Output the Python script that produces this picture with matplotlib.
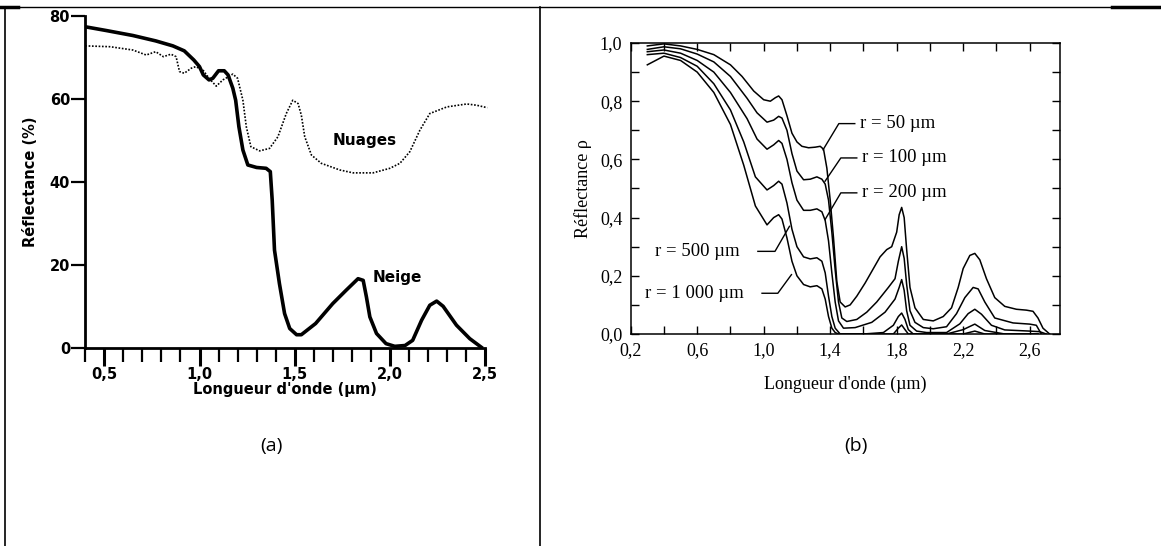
import matplotlib
matplotlib.use("Agg")
import matplotlib.pyplot as plt
from matplotlib.lines import Line2D
from matplotlib.ticker import MultipleLocator, FixedLocator, FuncFormatter

# --- (a) neige / nuages, reflectance in % ---
neige_x = [0.40, 0.51, 0.65, 0.77, 0.86, 0.92, 0.97, 1.00, 1.02, 1.05, 1.07, 1.10, 1.13, 1.15,
           1.175, 1.19, 1.207, 1.228, 1.254, 1.30, 1.35, 1.372, 1.382, 1.394, 1.42, 1.447,
           1.474, 1.51, 1.535, 1.61, 1.70, 1.77, 1.833, 1.86, 1.877, 1.895, 1.93, 1.98, 2.026,
           2.08, 2.12, 2.167, 2.21, 2.246, 2.28, 2.35, 2.42, 2.48]
neige_y = [77.4, 76.5, 75.3, 74.0, 72.8, 71.6, 69.4, 67.8, 65.8, 64.6, 65.0, 66.8, 66.8, 65.8,
           62.6, 59.7, 53.3, 47.7, 44.1, 43.5, 43.3, 42.5, 35.6, 23.6, 15.5, 8.3,
           4.7, 3.2, 3.2, 5.9, 10.7, 13.9, 16.7, 16.3, 12.3, 7.5, 3.5, 1.05, 0.4,
           0.6, 1.85, 6.7, 10.3, 11.3, 10.05, 5.5, 2.25, 0.2]

nuages_x = [0.40, 0.53, 0.65, 0.72, 0.77, 0.81, 0.85, 0.877, 0.895, 0.92, 0.956, 0.98, 1.018,
            1.05, 1.088, 1.123, 1.175, 1.20, 1.228, 1.246, 1.27, 1.316, 1.368, 1.412, 1.456,
            1.49, 1.518, 1.535, 1.553, 1.588, 1.64, 1.737, 1.807, 1.912, 2.00, 2.053, 2.105,
            2.158, 2.21, 2.30, 2.404, 2.456, 2.512]
nuages_y = [72.8, 72.6, 71.8, 70.6, 71.4, 70.2, 70.8, 70.2, 66.6, 66.2, 67.4, 67.8, 67.0,
            65.0, 63.1, 64.6, 66.0, 65.0, 59.7, 53.3, 48.5, 47.5, 48.1, 50.9, 56.5,
            59.7, 58.9, 56.1, 50.9, 46.5, 44.5, 42.9, 42.2, 42.2, 43.3, 44.5, 47.3,
            52.5, 56.5, 58.1, 58.8, 58.5, 57.9]

# --- (b) snow reflectance for grain radius r ---
r50_x = [0.30, 0.40, 0.50, 0.60, 0.70, 0.80, 0.87, 0.94, 1.00, 1.04, 1.07, 1.09, 1.11, 1.14,
         1.17, 1.20, 1.23, 1.27, 1.31, 1.34, 1.36, 1.38, 1.40, 1.42, 1.44, 1.46, 1.49, 1.52,
         1.56, 1.61, 1.66, 1.70, 1.74, 1.77, 1.80, 1.815, 1.83, 1.845, 1.86, 1.88, 1.91, 1.96,
         2.02, 2.08, 2.13, 2.17, 2.20, 2.24, 2.27, 2.30, 2.34, 2.39, 2.45, 2.52, 2.58, 2.62,
         2.65, 2.68, 2.72]
r50_y = [0.99, 0.997, 0.99, 0.978, 0.96, 0.925, 0.885, 0.835, 0.805, 0.80, 0.812, 0.818, 0.805,
         0.75, 0.69, 0.66, 0.645, 0.64, 0.642, 0.645, 0.635, 0.57, 0.46, 0.33, 0.18, 0.11,
         0.093, 0.10, 0.13, 0.175, 0.225, 0.265, 0.29, 0.30, 0.35, 0.41, 0.435, 0.40, 0.29,
         0.16, 0.09, 0.05, 0.045, 0.06, 0.09, 0.16, 0.225, 0.27, 0.277, 0.255, 0.19, 0.125,
         0.095, 0.085, 0.082, 0.078, 0.055, 0.02, 0.0]

r100_x = [0.30, 0.40, 0.50, 0.60, 0.70, 0.80, 0.90, 0.96, 1.02, 1.06, 1.09, 1.11, 1.14, 1.17,
          1.20, 1.24, 1.28, 1.32, 1.35, 1.37, 1.39, 1.41, 1.43, 1.45, 1.47, 1.50, 1.56, 1.62,
          1.68, 1.75, 1.79, 1.81, 1.83, 1.845, 1.86, 1.88, 1.91, 1.96, 2.02, 2.10, 2.16,
          2.21, 2.26, 2.29, 2.33, 2.39, 2.50, 2.60, 2.64, 2.67]
r100_y = [0.978, 0.987, 0.98, 0.962, 0.935, 0.885, 0.81, 0.76, 0.728, 0.735, 0.748, 0.742,
          0.70, 0.62, 0.56, 0.53, 0.532, 0.54, 0.532, 0.515, 0.46, 0.35, 0.22, 0.11, 0.055,
          0.043, 0.05, 0.075, 0.11, 0.16, 0.19, 0.25, 0.30, 0.26, 0.17, 0.08, 0.04, 0.022,
          0.018, 0.025, 0.07, 0.125, 0.16, 0.155, 0.11, 0.055, 0.038, 0.034, 0.03, 0.0]

r200_x = [0.30, 0.40, 0.50, 0.60, 0.70, 0.80, 0.90, 0.96, 1.02, 1.06, 1.09, 1.11, 1.14, 1.17,
          1.20, 1.24, 1.28, 1.32, 1.35, 1.37, 1.39, 1.41, 1.43, 1.45, 1.48, 1.55, 1.65, 1.73,
          1.79, 1.815, 1.83, 1.845, 1.86, 1.88, 1.92, 1.98, 2.10, 2.18, 2.23, 2.27, 2.31,
          2.37, 2.45, 2.60, 2.66, 2.70]
r200_y = [0.97, 0.976, 0.965, 0.94, 0.90, 0.83, 0.74, 0.67, 0.635, 0.65, 0.665, 0.655, 0.60,
          0.52, 0.46, 0.425, 0.425, 0.43, 0.42, 0.39, 0.32, 0.21, 0.11, 0.045, 0.02, 0.022,
          0.04, 0.075, 0.12, 0.16, 0.187, 0.15, 0.08, 0.03, 0.01, 0.005, 0.005, 0.035, 0.07,
          0.085, 0.068, 0.03, 0.014, 0.01, 0.008, 0.0]

r500_x = [0.30, 0.40, 0.50, 0.60, 0.70, 0.80, 0.88, 0.95, 1.02, 1.06, 1.09, 1.11, 1.14, 1.17,
          1.20, 1.24, 1.28, 1.32, 1.35, 1.37, 1.39, 1.41, 1.43, 1.46, 1.60, 1.72, 1.78, 1.81,
          1.83, 1.85, 1.87, 1.90, 2.10, 2.20, 2.27, 2.33, 2.45, 2.65]
r500_y = [0.96, 0.965, 0.95, 0.92, 0.86, 0.77, 0.66, 0.54, 0.495, 0.51, 0.525, 0.515, 0.45,
          0.36, 0.30, 0.265, 0.258, 0.262, 0.25, 0.21, 0.13, 0.06, 0.02, 0.0, 0.0, 0.005, 0.03,
          0.06, 0.072, 0.05, 0.015, 0.0, 0.0, 0.015, 0.034, 0.012, 0.0, 0.0]

r1000_x = [0.30, 0.40, 0.50, 0.60, 0.70, 0.80, 0.88, 0.95, 1.02, 1.06, 1.09, 1.11, 1.14, 1.17,
           1.20, 1.24, 1.28, 1.32, 1.35, 1.37, 1.39, 1.41, 1.43, 1.45, 1.60, 1.78, 1.81, 1.83,
           1.85, 1.87, 2.20, 2.27, 2.33, 2.65]
r1000_y = [0.925, 0.955, 0.94, 0.90, 0.83, 0.72, 0.58, 0.44, 0.375, 0.40, 0.41, 0.395, 0.33,
           0.25, 0.20, 0.17, 0.162, 0.166, 0.155, 0.12, 0.06, 0.02, 0.005, 0.0, 0.0, 0.0, 0.02,
           0.031, 0.015, 0.0, 0.0, 0.01, 0.0, 0.0]

radius_labels = ["r = 50 \u00b5m", "r = 100 \u00b5m", "r = 200 \u00b5m",
                 "r = 500 \u00b5m", "r = 1 000 \u00b5m"]
b_xticks = [0.2, 0.6, 1.0, 1.4, 1.8, 2.2, 2.6]

W, H = 1161, 546


def fx(px):
    return px / W


def fy(py):
    return 1 - py / H


def comma(v, pos=None):
    return f"{v:.1f}".replace(".", ",")


fig = plt.figure(figsize=(W / 100, H / 100), dpi=100)
fig.patch.set_facecolor("white")

# table borders around the two panels
for seg, lw in [(((5, 1161), (7, 7)), 1.0), (((0, 18), (7, 7)), 2.5), (((1112, 1161), (7, 7)), 2.5),
                (((5, 5), (7, 546)), 1.2), (((540, 540), (7, 546)), 1.2)]:
    (x0, x1), (y0, y1) = seg
    fig.add_artist(Line2D([fx(x0), fx(x1)], [fy(y0), fy(y1)], transform=fig.transFigure,
                          color="black", lw=lw))

# ---------------- panel (a) ----------------
bold = dict(family="DejaVu Sans", weight="bold")
axa = fig.add_axes([fx(85.3), fy(348), fx(485 - 85.3), (348 - 16) / H])
axa.plot(neige_x, neige_y, color="black", lw=2.6, solid_joinstyle="round")
axa.plot(nuages_x, nuages_y, color="black", lw=1.2, linestyle=(0, (1, 1.0)), clip_on=False)
axa.set_xlim(0.4, 2.5)
axa.set_ylim(0, 80)
for s in ["top", "right"]:
    axa.spines[s].set_visible(False)
for s in ["left", "bottom"]:
    axa.spines[s].set_linewidth(2.0)
axa.xaxis.set_major_locator(MultipleLocator(0.5))
axa.xaxis.set_minor_locator(MultipleLocator(0.1))
axa.yaxis.set_major_locator(MultipleLocator(20))
axa.xaxis.set_major_formatter(FuncFormatter(comma))
axa.tick_params(axis="x", which="major", direction="out", length=13, width=2.2, pad=1)
axa.tick_params(axis="x", which="minor", direction="out", length=10, width=1.6)
axa.tick_params(axis="y", which="major", direction="out", length=10, width=1.6, pad=1)
for lab in axa.get_xticklabels() + axa.get_yticklabels():
    lab.set_fontproperties(bold)
    lab.set_fontsize(10.5)
# the zero label is set in a plain serif face
zero = axa.get_yticklabels()[0]
zero.set_family("Liberation Serif")
zero.set_weight("normal")
zero.set_fontsize(12)
axa.set_xlabel("Longueur d'onde (\u00b5m)", fontsize=10.5, labelpad=0, **bold)
axa.set_ylabel("R\u00e9flectance (%)", fontsize=10.5, labelpad=8, **bold)
axa.text(1.87, 50.0, "Nuages", ha="center", va="center", fontsize=11, **bold)
axa.text(2.04, 17.1, "Neige", ha="center", va="center", fontsize=11, **bold)

# ---------------- panel (b) ----------------
serif = "Liberation Serif"
axb = fig.add_axes([fx(630.7), fy(334), fx(1059.6 - 630.7), (334 - 43) / H])
for xs, ys in [(r50_x, r50_y), (r100_x, r100_y), (r200_x, r200_y),
               (r500_x, r500_y), (r1000_x, r1000_y)]:
    axb.plot(xs, ys, color="black", lw=1.1, solid_joinstyle="round")
axb.set_xlim(0.2, 2.78)
axb.set_ylim(0, 1.0)
for s in axb.spines.values():
    s.set_linewidth(1.1)
axb.xaxis.set_major_locator(FixedLocator(b_xticks))
axb.xaxis.set_minor_locator(MultipleLocator(0.2))
axb.yaxis.set_major_locator(MultipleLocator(0.2))
axb.yaxis.set_minor_locator(MultipleLocator(0.1))
axb.xaxis.set_major_formatter(FuncFormatter(comma))
axb.yaxis.set_major_formatter(FuncFormatter(comma))
axb.tick_params(which="both", direction="in", top=True, right=True, length=6, width=1.0,
                labelsize=13, pad=6)
for lab in axb.get_xticklabels() + axb.get_yticklabels():
    lab.set_family(serif)
axb.set_xlabel("Longueur d'onde (\u00b5m)", family=serif, fontsize=13, labelpad=12)
axb.set_ylabel("R\u00e9flectance \u03c1", family=serif, fontsize=13, labelpad=6)

# leader lines: curve point -> elbow -> end of horizontal
leaders = [
    ((1.357, 0.633), (1.452, 0.723), (1.548, 0.723), "left"),
    ((1.369, 0.525), (1.464, 0.605), (1.560, 0.605), "left"),
    ((1.369, 0.393), (1.464, 0.485), (1.560, 0.485), "left"),
    ((1.155, 0.370), (1.068, 0.284), (0.965, 0.284), "right"),
    ((1.167, 0.204), (1.085, 0.140), (0.990, 0.140), "right"),
]
for (p0, p1, p2, side), text in zip(leaders, radius_labels):
    axb.plot([p0[0], p1[0], p2[0]], [p0[1], p1[1], p2[1]], color="black", lw=1.0)
    if side == "left":
        axb.text(p2[0] + 0.03, p2[1], text, ha="left", va="center", family=serif, fontsize=13.5)
    else:
        axb.text(p2[0] - 0.11, p2[1], text, ha="right", va="center", family=serif, fontsize=13.5)

# panel captions
fig.text(fx(271), fy(446), "(a)", ha="center", va="center", family="Open Sans", fontsize=14)
fig.text(fx(856), fy(446), "(b)", ha="center", va="center", family="Open Sans", fontsize=14)

fig.savefig("out.png", dpi=100)
